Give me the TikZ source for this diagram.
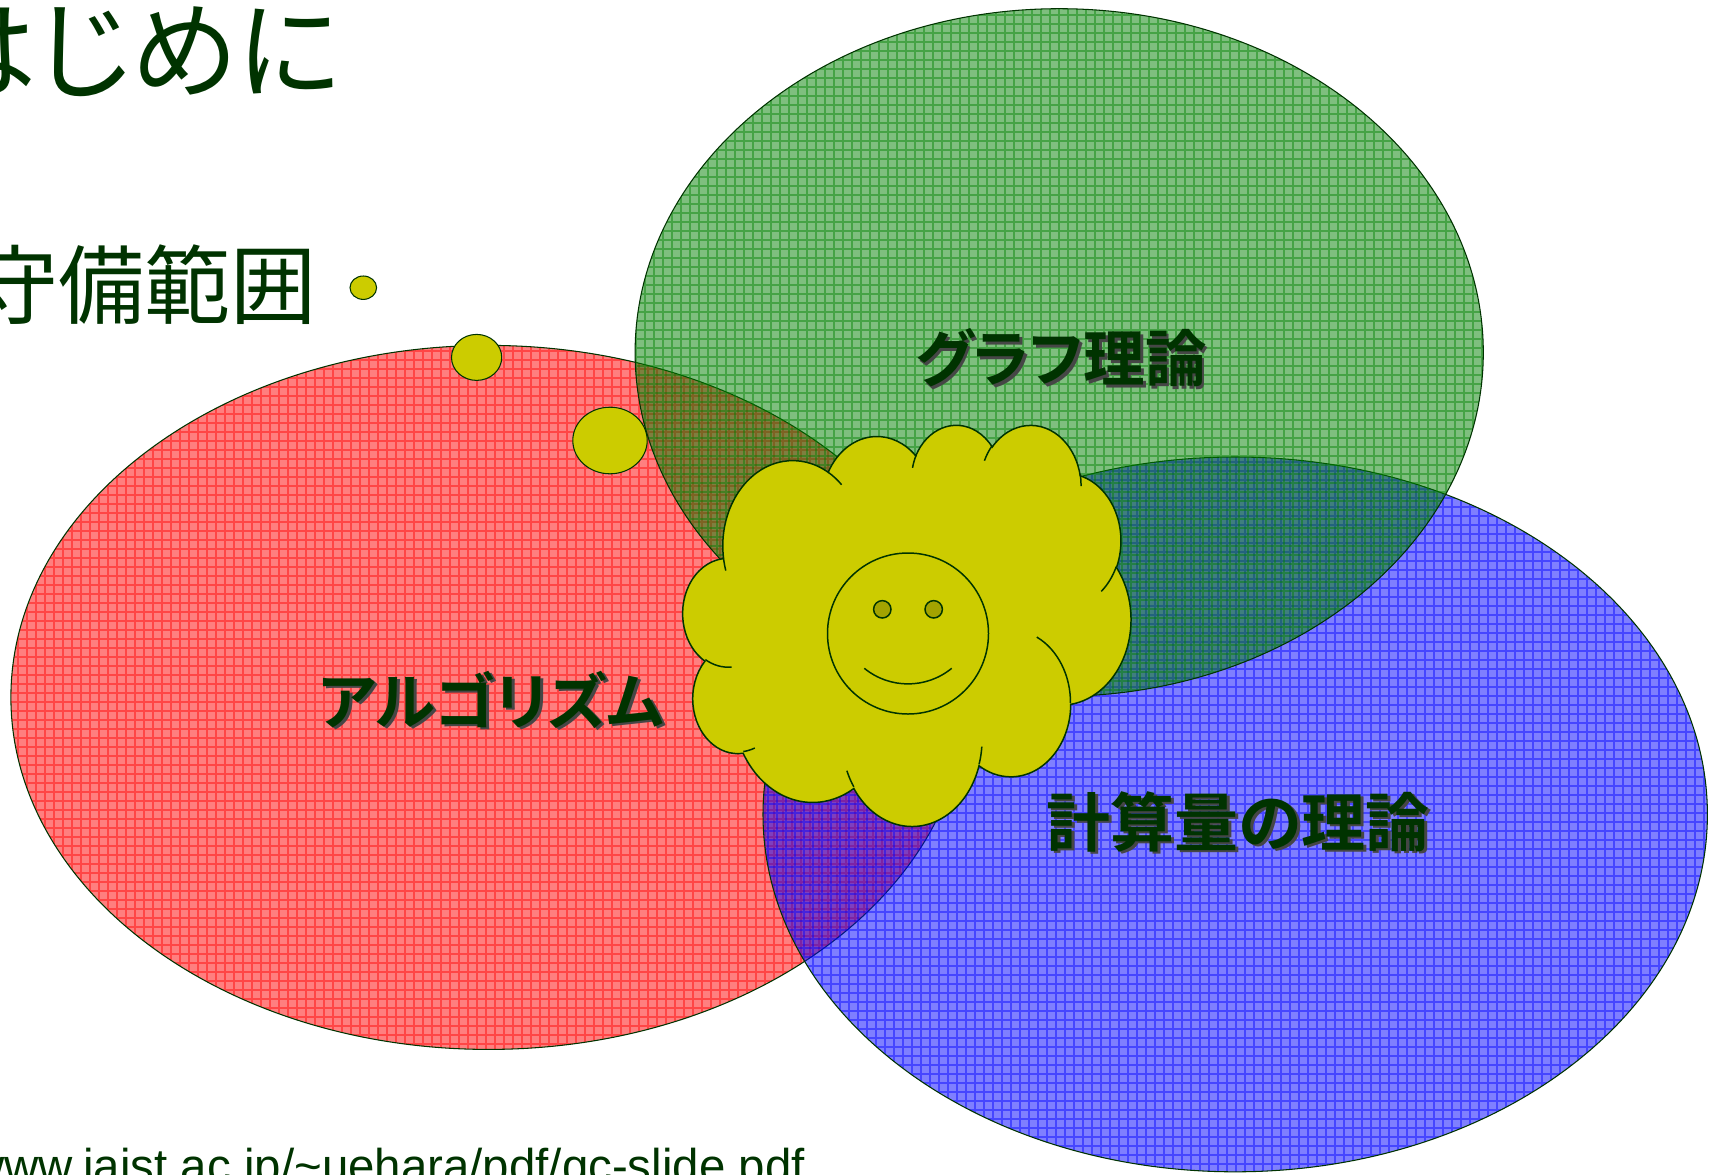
\documentclass[tikz,border=0pt]{standalone}
\usepackage{fontspec}
\usepackage{xcolor}
\usepackage{tikz}
\newfontfamily\jpfont{Noto Sans CJK JP}[BoldFont={Noto Sans CJK JP Bold},RawFeature=+palt]
\newfontfamily\urlfont{Liberation Sans}
\definecolor{textgreen}{RGB}{0,51,0}
\definecolor{shadowgrey}{RGB}{70,70,70}
\definecolor{cloudyellow}{RGB}{204,204,0}
\definecolor{eyeolive}{RGB}{163,163,0}
\definecolor{setred}{RGB}{255,0,0}
\definecolor{setgreen}{RGB}{0,128,0}
\definecolor{setblue}{RGB}{0,0,255}
\newcommand\shadowed[1]{\makebox[0pt][l]{\hspace{1.5pt}\raisebox{-1.5pt}{\color{shadowgrey}#1}}#1}
\tikzset{
    outline/.style = {draw=textgreen, line width=0.6pt},
    setfill/.style = {fill=#1, fill opacity=0.5},
    gridline/.style = {draw=#1, draw opacity=0.45, line width=0.6pt},
    puff/.style = {fill=cloudyellow, draw=textgreen, line width=0.85pt},
    heading/.style = {text=textgreen, inner sep=0pt, font=\jpfont\fontsize{61}{61}\selectfont},
    subheading/.style = {text=textgreen, inner sep=0pt, font=\jpfont\fontsize{49}{49}\selectfont},
    setlabel/.style = {text=textgreen, inner sep=0pt, font=\jpfont\bfseries\fontsize{35}{35}\selectfont},
    source/.style = {text=textgreen, inner sep=0pt, font=\urlfont\fontsize{27}{27}\selectfont}
}

\begin{document}
\begin{tikzpicture}[x=0.02cm, y=-0.02cm]
  \useasboundingbox (0,0) rectangle (1714,1174);
  \clip (0,0) rectangle (1714,1174);

  % the three sets: red, then blue, then green on top
  \foreach \cx/\cy/\rx/\ry/\col/\off in {488.6/697.4/477.7/352/setred/0,
      1235.2/814.4/472.2/357.4/setblue/3, 1059.2/352.5/424.1/343.8/setgreen/6} {
    \fill [setfill=\col] (\cx,\cy) ellipse [x radius=\rx, y radius=\ry];
    \begin{scope}
      \clip (\cx,\cy) ellipse [x radius=\rx, y radius=\ry];
      \draw [gridline=\col] \foreach \gx in {0,9,...,1710} {(\gx+\off,0) -- (\gx+\off,1174)}
        \foreach \gy in {0,9,...,1170} {(0,\gy+\off) -- (1714,\gy+\off)};
    \end{scope}
    \draw [outline] (\cx,\cy) ellipse [x radius=\rx, y radius=\ry];
  }

  \node [heading, anchor=east] (title) at (341,52) {はじめに};
  \node [subheading, anchor=east] (scope) at (317,284.5) {守備範囲};
  \node [source, anchor=base east] (url) at (805,1182) {www.jaist.ac.jp/\textasciitilde uehara/pdf/gc-slide.pdf};

  \node [setlabel] (graph) at (1061,359) {\shadowed{グラフ理論}};
  \node [setlabel] (algo) at (491.5,701) {\shadowed{アルゴリズム}};
  \node [setlabel, font=\jpfont\bfseries\fontsize{36.4}{36.4}\selectfont] (compl) at (1238,823) {\shadowed{計算量の理論}};

  % thought bubbles
  \draw [puff, line width=0.6pt] (363.3,287.7) ellipse [x radius=13.3, y radius=11.7];
  \draw [puff, line width=0.6pt] (476.6,357.4) ellipse [x radius=25.1, y radius=23];
  \draw [puff, line width=0.6pt] (610,440.5) ellipse [x radius=37.2, y radius=33.3];

  % cloud: radii, start angle and sweep as seen on each puff
  \def\puffpath{}
  \foreach \prx/\pry/\pst/\psw in {67.53/91.90/-190.4875/123.7805, 53.33/72.67/-144.1024/89.9452,
      43.65/59.45/-145.8079/99.7230, 48.57/65.95/-130.9861/117.2417, 53.33/72.73/-78.7089/109.0269,
      67.75/92.20/-46.2673/130.2690, 57.85/78.67/0.6250/114.0333, 67.52/92.15/22.4516/115.1726,
      77.20/105.43/66.2426/75.7110, 43.60/59.18/-274.9421/146.7356, 43.45/59.45/-246.8285/152.5189} {
    \pgfmathsetmacro\ta{atan2(\prx*sin(\pst),\pry*cos(\pst))}
    \pgfmathsetmacro\tb{atan2(\prx*sin(\pst+\psw),\pry*cos(\pst+\psw))}
    \pgfmathsetmacro\td{mod(\tb-\ta+720,360)}
    \xdef\puffpath{\puffpath arc[start angle=\ta, delta angle=\td, x radius=\prx, y radius=\pry]}
  }
  \def\stubpath{}
  \foreach \qx/\qy/\prx/\pry/\pst/\psw in {46.93/261.77/43.45/59.45/86.7420/26.4295,
      69.28/348.99/43.60/59.18/73.6105/11.4475, 164.78/390.90/67.52/92.15/137.6242/14.0811,
      288.27/347.51/67.52/92.15/6.4533/15.9984, 341.29/229.54/57.85/78.67/-70.2924/70.9174,
      417.98/153.54/53.33/72.73/30.3180/27.7515, 383.24/54.26/48.57/65.95/-13.7443/14.8540,
      290.78/39.52/48.57/65.95/-149.1815/18.1954, 221.41/47.20/43.65/59.45/-163.4943/17.6895,
      140.00/51.92/67.53/91.90/-66.7070/12.3194, 41.27/157.89/67.53/91.90/157.6544/11.8582} {
    \pgfmathsetmacro\ta{atan2(\prx*sin(\pst),\pry*cos(\pst))}
    \pgfmathsetmacro\tb{atan2(\prx*sin(\pst+\psw),\pry*cos(\pst+\psw))}
    \pgfmathsetmacro\td{mod(\tb-\ta+720,360)}
    \xdef\stubpath{\stubpath (\qx,\qy) arc[start angle=\ta, delta angle=\td, x radius=\prx, y radius=\pry]}
  }
  \begin{scope}[shift={(683,424)}, x=0.020741cm, y=-0.018565cm]
    \draw [puff] (39,143.7) \puffpath -- cycle;
    \draw [puff, fill=none] \stubpath;
  \end{scope}

  % smiling face
  \draw [puff, fill=none] (908,633.5) circle [radius=80.5];
  \draw [puff, fill=eyeolive] (882.3,609.3) circle [radius=8.7];
  \draw [puff, fill=eyeolive] (933.7,609.3) circle [radius=8.7];
  \draw [puff, fill=none] (951.7,668.3) arc [start angle=50.7, end angle=129.3, radius=69];
\end{tikzpicture}
\end{document}
